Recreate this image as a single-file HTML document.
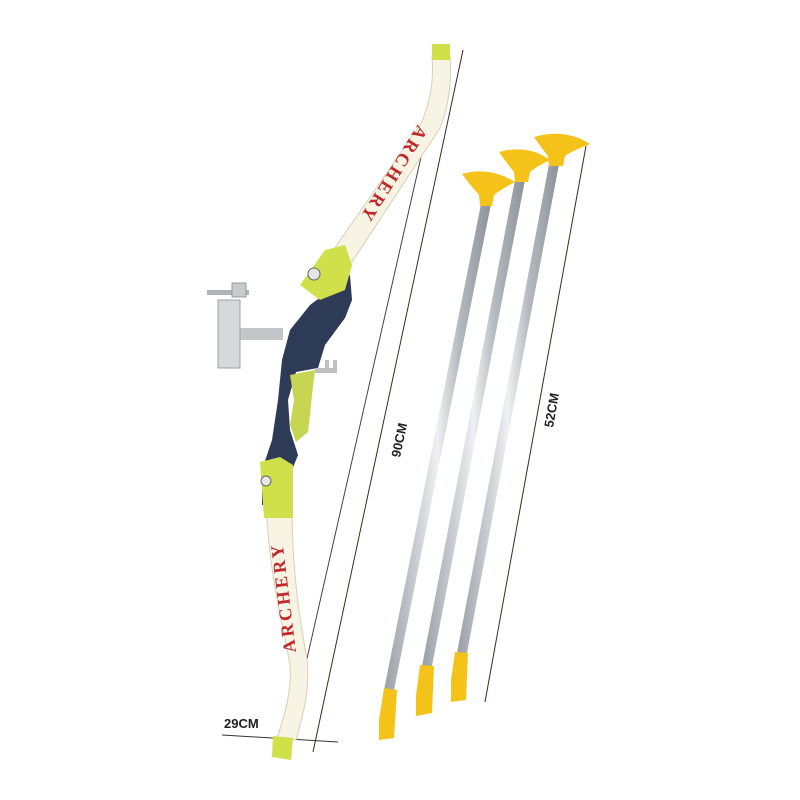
<!DOCTYPE html>
<html><head><meta charset="utf-8"><style>
html,body{margin:0;padding:0;background:#fff;}
svg{display:block;}
</style></head><body>
<svg width="800" height="800" viewBox="0 0 800 800" xmlns="http://www.w3.org/2000/svg">
<defs>
<linearGradient id="sh" x1="0" y1="0" x2="1" y2="0">
<stop offset="0" stop-color="#9a9fa5"/><stop offset="0.3" stop-color="#c9cdd1"/><stop offset="0.5" stop-color="#eef0f2"/><stop offset="0.7" stop-color="#b5babe"/><stop offset="1" stop-color="#8d9298"/>
</linearGradient>
</defs>
<!-- dimension lines -->
<line x1="463" y1="50" x2="313" y2="752" stroke="#3a2a22" stroke-width="1"/>
<line x1="586" y1="146" x2="485" y2="702" stroke="#3a2a22" stroke-width="1"/>
<line x1="222" y1="735" x2="338" y2="742" stroke="#333" stroke-width="1"/>
<text x="0" y="0" transform="translate(400,458) rotate(-78)" font-family="Liberation Sans, sans-serif" font-size="13" font-weight="bold" fill="#222">90CM</text>
<text x="0" y="0" transform="translate(553,428) rotate(-80)" font-family="Liberation Sans, sans-serif" font-size="13" font-weight="bold" fill="#222">52CM</text>
<text x="224" y="728" font-family="Liberation Sans, sans-serif" font-size="13" font-weight="bold" fill="#222">29CM</text>

<!-- bowstring -->
<line x1="426" y1="135" x2="306" y2="663" stroke="#444" stroke-width="1"/>

<!-- upper limb -->
<path d="M432,56 C434,85 430,100 422,122 L330,255 L352,262 L440,128 C448,108 452,85 450,56 Z" fill="#f8f4e4" stroke="#d6d0b8" stroke-width="1"/>
<path d="M432,44 L450,44 L450,60 L432,60 Z" fill="#cfe04a"/>
<text transform="translate(418,124) rotate(122)" font-family="Liberation Serif, serif" font-size="18" font-weight="bold" fill="#c0282a" letter-spacing="3">ARCHERY</text>
<!-- lower limb -->
<path d="M266,505 C270,580 282,620 290,665 C292,690 285,715 277,738 L296,740 C304,712 310,688 307,660 C300,620 292,575 292,505 Z" fill="#f8f4e4" stroke="#d6d0b8" stroke-width="1"/>
<path d="M273,736 L293,738 L291,760 L272,757 Z" fill="#cfe04a"/>
<text transform="translate(296,652) rotate(-97)" font-family="Liberation Serif, serif" font-size="18" font-weight="bold" fill="#c0282a" letter-spacing="3">ARCHERY</text>

<!-- sight -->
<rect x="235" y="328" width="48" height="12" fill="#c3c6c9"/>
<rect x="218" y="300" width="22" height="68" fill="#d6d8da" stroke="#9ea2a6" stroke-width="1"/>
<rect x="207" y="290" width="42" height="5" fill="#b0b4b8"/>
<rect x="232" y="283" width="14" height="14" fill="#c8cbce" stroke="#999"/>
<!-- riser -->
<path d="M330,290 L350,275 L352,300 L345,318 L325,345 L318,368 L296,372 L288,400 L290,430 L298,455 L292,470 L292,505 L262,505 L262,470 L272,440 L278,400 L282,360 L290,330 L310,305 Z" fill="#2e3b57"/>
<path d="M300,285 L325,250 L345,245 L352,265 L345,290 L320,300 Z" fill="#cfe04a"/>
<circle cx="314" cy="274" r="6" fill="#e6e6e6" stroke="#666"/>
<path d="M260,462 L280,457 L293,465 L293,518 L264,518 Z" fill="#cfe04a"/>
<circle cx="266" cy="481" r="5" fill="#e6e6e6" stroke="#666"/>
<path d="M290,375 L315,370 L312,395 L310,415 L308,432 L296,442 L290,425 L294,400 Z" fill="#c6d653"/>
<rect x="315" y="368" width="22" height="5" fill="#c0c0c0"/>
<rect x="325" y="360" width="4" height="12" fill="#c0c0c0"/>
<rect x="333" y="360" width="4" height="12" fill="#c0c0c0"/>

<!-- arrows -->
<g>
<path d="M481,204 L491,204 L394,690 L384,690 Z" fill="url(#sh)"/>
<path d="M384,688 L397,690 L394,738 L379,740 L379,720 Z" fill="#f5c21a"/>
<path d="M462,174 Q490,166 515,182 Q500,190 494,195 L492,206 L480,206 L479,195 Q470,185 462,174 Z" fill="#f5c21a"/>
</g>
<g>
<path d="M515,180 L525,180 L432,666 L422,666 Z" fill="url(#sh)"/>
<path d="M420,665 L434,666 L432,713 L416,716 L416,696 Z" fill="#f5c21a"/>
<path d="M499,152 Q528,144 550,160 Q534,168 530,172 L528,182 L515,182 L514,172 Q506,162 499,152 Z" fill="#f5c21a"/>
</g>
<g>
<path d="M549,164 L559,164 L467,653 L457,653 Z" fill="url(#sh)"/>
<path d="M455,652 L468,653 L466,700 L451,702 L451,680 Z" fill="#f5c21a"/>
<path d="M534,137 Q565,128 590,144 Q570,152 565,156 L563,166 L549,166 L548,156 Q540,146 534,137 Z" fill="#f5c21a"/>
</g>
</svg>
</body></html>
